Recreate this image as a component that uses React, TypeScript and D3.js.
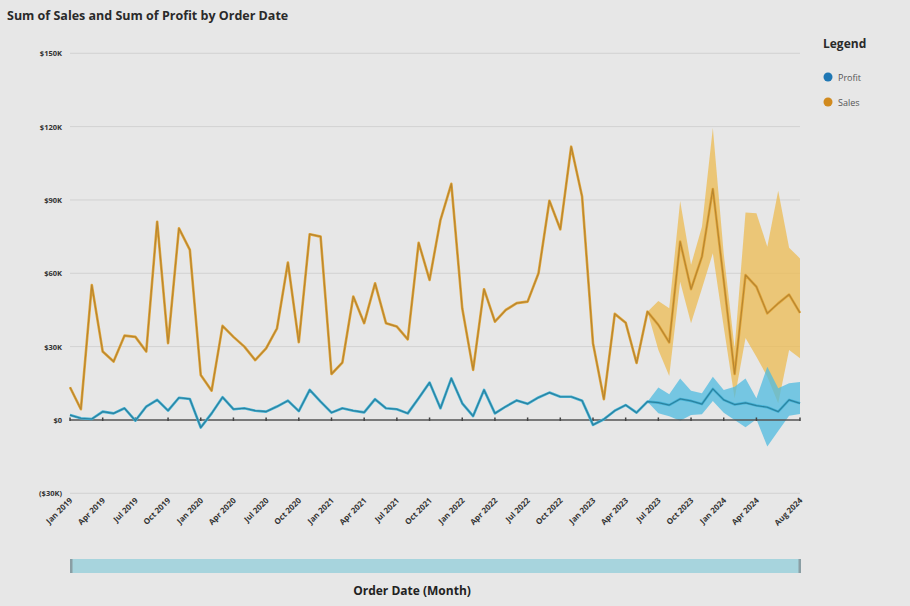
import React from "react";
import * as d3 from "d3";

// Monthly categories, Jan 2019 through Aug 2024
const fmt = d3.timeFormat("%b %Y");
const months: string[] = d3.timeMonth
  .range(new Date(2019, 0, 1), new Date(2024, 8, 1))
  .map((d) => fmt(d));

// Sum of Sales, $K per month
const sales: number[] = [
  13.4, 4.4, 55.2, 28, 23.9, 34.5, 34, 28, 81.1, 31.4, 78.4, 69.6,
  18.4, 12, 38.5, 34, 30, 24.5, 29.3, 37.5, 64.4, 31.8, 76, 75,
  18.8, 23.5, 50.5, 39.6, 55.9, 39.6, 38.2, 33, 72.5, 57.3, 81.8, 96.6,
  45.7, 20.5, 53.5, 40.2, 45, 47.8, 48.4, 60, 89.7, 78, 111.8, 91.4,
  31.4, 8.5, 43.4, 39.8, 23.3, 44.3, 38.9, 31.7, 73, 53.5, 66.8, 94.5,
  57, 18.8, 59.3, 54.5, 43.6, 47.7, 51.3, 43.8,
];

// Sum of Profit, $K per month
const profit: number[] = [
  2, 0.7, 0.4, 3.4, 2.7, 4.8, -0.3, 5.5, 8.2, 3.8, 9.1, 8.6,
  -3.1, 2.7, 9.3, 4.4, 4.8, 3.8, 3.4, 5.5, 7.9, 3.6, 12.3, 7.5,
  3, 4.8, 3.8, 3.1, 8.5, 4.8, 4.4, 2.7, 8.9, 15.3, 4.8, 17,
  6.8, 1.6, 12.3, 2.7, 5.5, 8, 6.6, 9.2, 11.2, 9.5, 9.5, 7.9,
  -2, 0.3, 3.8, 6.1, 3, 7.5, 7.1, 6.1, 8.6, 7.8, 6.5, 12.7,
  8.2, 6.3, 7, 5.9, 5.2, 3.4, 8.2, 6.8,
];

// Forecast interval bounds, from Jun 2023 onward
const bandStart = "Jun 2023";
const salesUpper: number[] = [44.3, 48.7, 45.7, 89.6, 63.5, 79, 119.4, 68, 29.3, 84.9, 84.6, 70.9, 93.8, 70.5, 66.1];
const salesLower: number[] = [44.3, 28.6, 18, 56.5, 39.6, 53.8, 68.2, 38, 8.8, 33.5, 25.9, 17.7, 6.8, 28.6, 25.2];
const profitUpper: number[] = [7.5, 13.3, 10.5, 17, 12, 10.9, 17.7, 12.3, 13.6, 17, 8.9, 21.8, 13, 15, 15.5];
const profitLower: number[] = [7.5, 2.7, 1.5, -0.3, 2, 2.3, 7.8, 3, 0, -3, 0.3, -10.9, -4.5, 1.7, 2.4];

// Axis labels
const yTicks: number[] = [-30, 0, 30, 60, 90, 120, 150];
const xTickLabels: string[] = [
  "Jan 2019", "Apr 2019", "Jul 2019", "Oct 2019",
  "Jan 2020", "Apr 2020", "Jul 2020", "Oct 2020",
  "Jan 2021", "Apr 2021", "Jul 2021", "Oct 2021",
  "Jan 2022", "Apr 2022", "Jul 2022", "Oct 2022",
  "Jan 2023", "Apr 2023", "Jul 2023", "Oct 2023",
  "Jan 2024", "Apr 2024", "Aug 2024",
];

const W = 910;
const H = 606;
const left = 70;
const right = 800;

const FONT = "'Open Sans', 'Noto Sans', sans-serif";
const SALES = "#e2a73c";
const SALES_CORE = "#b88630";
const SALES_BAND = "#ecbb52";
const PROFIT = "#45b2d5";
const PROFIT_CORE = "#2b829f";
const PROFIT_BAND = "#4fbbe0";

const yLabel = (v: number) =>
  v === 0 ? "$0" : v < 0 ? `($${Math.abs(v)}K)` : `$${v}K`;

export default function App() {
  const x = d3.scalePoint<string>().domain(months).range([left, right]);
  const y = d3.scaleLinear().domain([-30, 150]).range([493.3, 53.3]);

  const line = d3
    .line<number>()
    .x((_, i) => x(months[i]) as number)
    .y((d) => y(d));

  const b0 = months.indexOf(bandStart);
  const band = (upper: number[], lower: number[]) =>
    d3
      .area<number>()
      .x((_, i) => x(months[b0 + i]) as number)
      .y0((_, i) => y(lower[i]))
      .y1((d) => y(d))(upper) as string;

  const salesPath = line(sales) as string;
  const profitPath = line(profit) as string;

  return (
    <svg
      width={W}
      height={H}
      style={{ position: "absolute", left: 0, top: 0, display: "block" }}
      fontFamily={FONT}
    >
      <rect x={0} y={0} width={W} height={H} fill="#e7e7e7" />

      <text x={7} y={20} fontSize={12.5} fontWeight={700} fill="#2a2a2a">
        Sum of Sales and Sum of Profit by Order Date
      </text>

      {/* gridlines and y labels */}
      {yTicks.map((t) => (
        <g key={t}>
          {t !== 0 && (
            <line x1={left} x2={right} y1={y(t)} y2={y(t)} stroke="#d2d2d2" strokeWidth={1} />
          )}
          <text
            x={62}
            y={y(t) + 3}
            textAnchor="end"
            fontSize={7.5}
            fontWeight={700}
            fill="#333"
          >
            {yLabel(t)}
          </text>
        </g>
      ))}

      {/* forecast bands */}
      <path d={band(salesUpper, salesLower)} fill={SALES_BAND} opacity={0.75} />
      <path d={band(profitUpper, profitLower)} fill={PROFIT_BAND} opacity={0.75} />

      {/* zero baseline with quarter ticks */}
      <line x1={left} x2={right} y1={y(0)} y2={y(0)} stroke="#555" strokeWidth={1.4} />
      {xTickLabels.map((m) => (
        <line
          key={m}
          x1={x(m)}
          x2={x(m)}
          y1={y(0) - 2.5}
          y2={y(0) + 1}
          stroke="#444"
          strokeWidth={1.5}
        />
      ))}

      {/* series lines */}
      <path d={salesPath} fill="none" stroke={SALES} strokeWidth={2.6} strokeLinejoin="round" />
      <path d={salesPath} fill="none" stroke={SALES_CORE} strokeWidth={1.2} strokeLinejoin="round" />
      <path d={profitPath} fill="none" stroke={PROFIT} strokeWidth={2.6} strokeLinejoin="round" />
      <path d={profitPath} fill="none" stroke={PROFIT_CORE} strokeWidth={1.2} strokeLinejoin="round" />

      {/* x tick labels */}
      {xTickLabels.map((m) => (
        <text
          key={m}
          transform={`translate(${(x(m) as number) + 3},${501}) rotate(-45)`}
          textAnchor="end"
          fontSize={8}
          fontWeight={700}
          fill="#333"
        >
          {m}
        </text>
      ))}

      {/* range slider */}
      <rect x={left} y={559} width={right - left + 1} height={14} fill="#a7d4dd" rx={1.5} />
      <rect x={left} y={559} width={2.5} height={14} fill="#8a9ea4" />
      <rect x={right - 1.5} y={559} width={2.5} height={14} fill="#8a9ea4" />

      <text x={412} y={595} textAnchor="middle" fontSize={12} fontWeight={700} fill="#222">
        Order Date (Month)
      </text>

      {/* legend */}
      <text x={823} y={48} fontSize={12} fontWeight={700} fill="#2a2a2a">
        Legend
      </text>
      <circle cx={828} cy={77} r={4.5} fill="#1f77b4" />
      <text x={838} y={80.5} fontSize={9} fill="#555">
        Profit
      </text>
      <circle cx={828} cy={102} r={4.5} fill="#d18a1e" />
      <text x={838} y={105.5} fontSize={9} fill="#555">
        Sales
      </text>
    </svg>
  );
}
